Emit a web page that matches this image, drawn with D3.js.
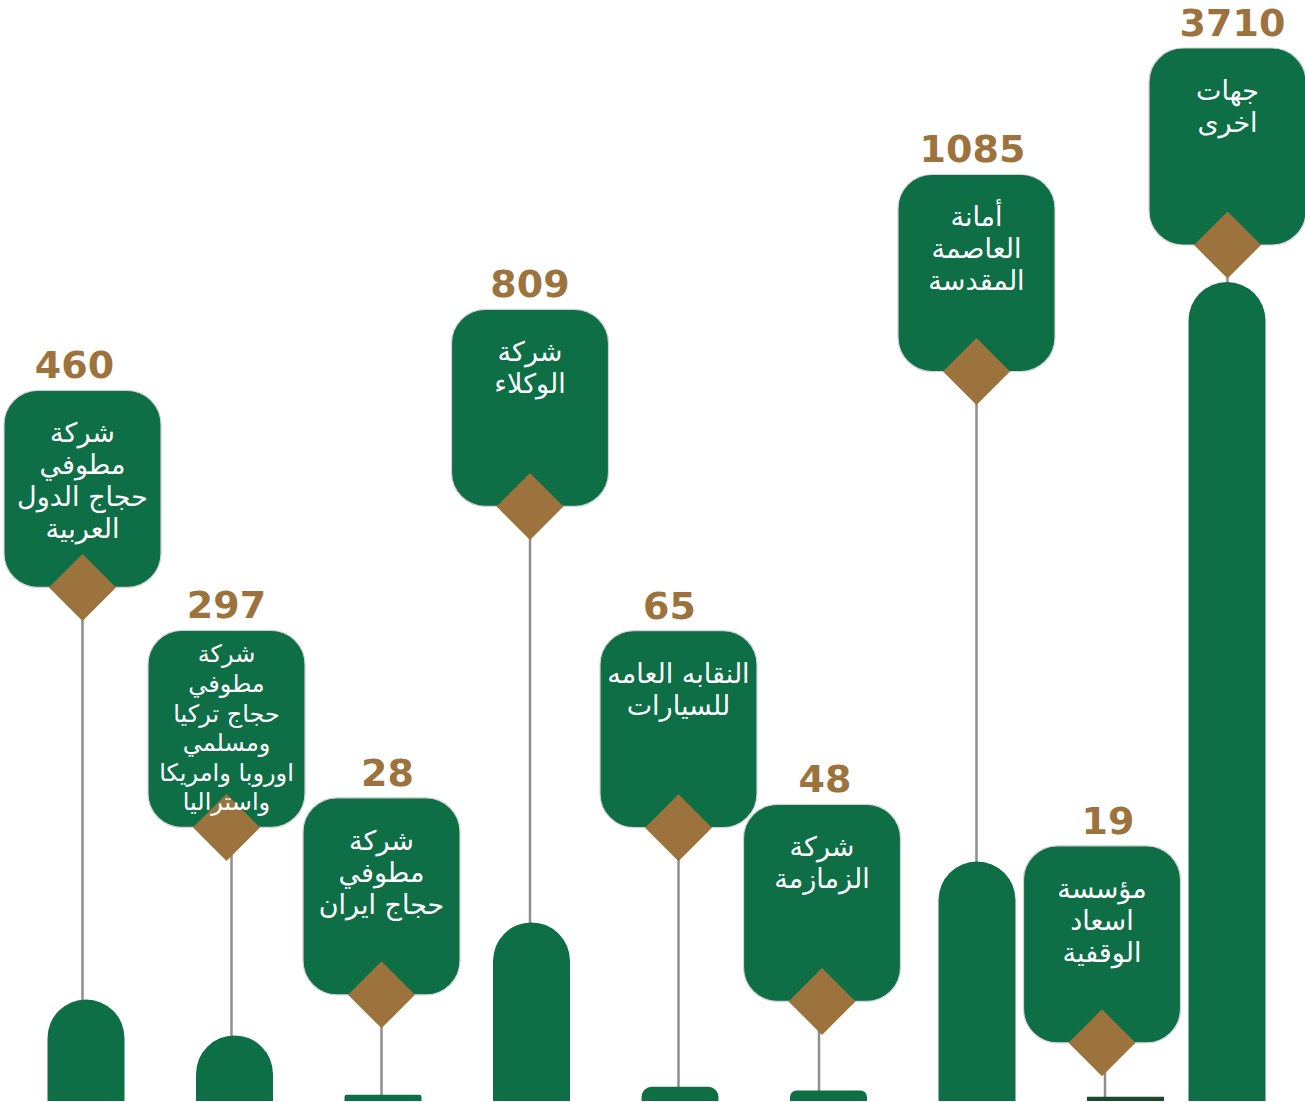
<!DOCTYPE html>
<html>
<head>
<meta charset="utf-8">
<script src="https://cdn.jsdelivr.net/npm/d3@7"></script>
<style>
  html, body { margin: 0; padding: 0; background: #ffffff; }
  svg { display: block; }
</style>
</head>
<body>
<svg id="chart" width="1305" height="1102"></svg>
<script>
// ---------------- data ----------------
const categories = [
  "شركة\nمطوفي\nحجاج الدول\nالعربية",
  "شركة\nمطوفي\nحجاج تركيا\nومسلمي\nاوروبا وامريكا\nواستراليا",
  "شركة\nمطوفي\nحجاج ايران",
  "شركة\nالوكلاء",
  "النقابه العامه\nللسيارات",
  "شركة\nالزمازمة",
  "أمانة\nالعاصمة\nالمقدسة",
  "مؤسسة\nاسعاد\nالوقفية",
  "جهات\nاخرى"
];
const values = [460, 297, 28, 809, 65, 48, 1085, 19, 3710];
const valueLabels = ["460", "297", "28", "809", "65", "48", "1085", "19", "3710"];

// ---------------- layout (not data) ----------------
const stemLength = [412, 208, 100, 416, 259, 89, 490, 54, 37];   // px between label box bottom and bar top
const labelShift = [-3.5, -8, -1.5, -1.5, -1.5, -6.5, -0.5, -23.5, 0.5];
const stemShift  = [0, 5, 0, 0, 0, -3, 0, 3, 0];
const valueShift = [-8, 0, 6, 0, -9, 3, -4, 6, 5];
const barShift   = [0, 0, 0, 0, 0, 0, 0, 0, -47];
const barColors  = ["#0e6e46", "#0e6e46", "#0e6e46", "#0e6e46", "#0e6e46", "#0e6e46", "#0e6e46", "#1a4a2b", "#0e6e46"];

const GREEN = "#0e6e46", BROWN = "#9d733d", LINE = "#8e8e8e";
const barW = 77, boxW = 157, boxH = 197, boxR = 34, dHalf = 33.5;

const svg = d3.select("#chart");
const keys = categories.map((c, i) => i);

const x = d3.scalePoint().domain(keys).range([86, 86 + 148.5 * 8]);
const y = d3.scaleLinear().domain([0, 3710]).range([1101, 282]);

const items = keys.map(i => {
  const bx = x(i) + barShift[i];
  const top = y(values[i]);
  const lx = bx + labelShift[i];
  const boxBottom = top - stemLength[i];
  return { i, bx, top, lx, boxTop: boxBottom - boxH, boxBottom, lines: categories[i].split("\n") };
});

// stems
svg.append("g").selectAll("line").data(items).join("line")
  .attr("x1", d => d.lx + stemShift[d.i]).attr("x2", d => d.lx + stemShift[d.i])
  .attr("y1", d => d.boxBottom).attr("y2", d => d.top + 2)
  .attr("stroke", LINE).attr("stroke-width", 2.5);

// bars with rounded tops
function barPath(d) {
  const x0 = d.bx - barW / 2, x1 = d.bx + barW / 2, b = y(0), t = d.top;
  const h = b - t;
  const r = Math.max(0, Math.min(barW / 2, h - 4));
  return `M${x0},${b} L${x0},${t + r} A${r},${r} 0 0 1 ${x0 + r},${t} L${x1 - r},${t} A${r},${r} 0 0 1 ${x1},${t + r} L${x1},${b} Z`;
}
svg.append("g").selectAll("path").data(items).join("path")
  .attr("d", barPath)
  .attr("fill", d => barColors[d.i]);

// label boxes
svg.append("g").selectAll("rect").data(items).join("rect")
  .attr("x", d => d.lx - boxW / 2).attr("y", d => d.boxTop)
  .attr("width", boxW).attr("height", boxH)
  .attr("rx", boxR).attr("ry", boxR)
  .attr("fill", GREEN).attr("stroke", "#d2d2d2").attr("stroke-width", 1.2);

// diamonds
svg.append("g").selectAll("path").data(items).join("path")
  .attr("d", d => `M${d.lx},${d.boxBottom - dHalf} L${d.lx + dHalf},${d.boxBottom} L${d.lx},${d.boxBottom + dHalf} L${d.lx - dHalf},${d.boxBottom} Z`)
  .attr("fill", BROWN);

// category texts
const tg = svg.append("g");
items.forEach(d => {
  const many = d.lines.length > 4;
  const fs = many ? 24 : 27, lh = many ? 29.6 : 32, first = many ? 32 : 52;
  d.lines.forEach((ln, k) => {
    tg.append("text")
      .attr("x", d.lx).attr("y", d.boxTop + first + k * lh)
      .attr("text-anchor", "middle")
      .attr("direction", "rtl")
      .attr("font-family", "'DejaVu Sans', sans-serif")
      .attr("font-size", fs)
      .attr("fill", "#ffffff")
      .text(ln);
  });
});

// value labels
svg.append("g").selectAll("text").data(items).join("text")
  .attr("x", d => d.lx + valueShift[d.i]).attr("y", d => d.boxTop - 12)
  .attr("text-anchor", "middle")
  .attr("font-family", "'DejaVu Sans', sans-serif")
  .attr("font-weight", "bold")
  .attr("font-size", 38)
  .attr("fill", BROWN)
  .text(d => valueLabels[d.i]);
</script>
</body>
</html>
